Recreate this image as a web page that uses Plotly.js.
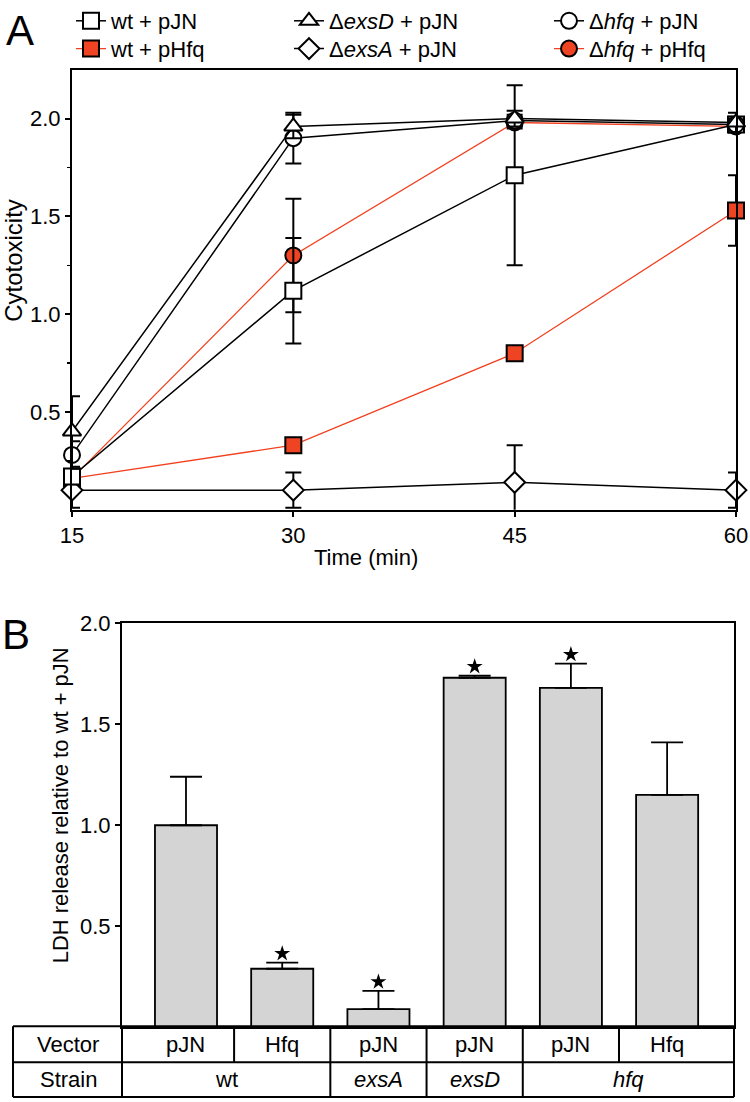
<!DOCTYPE html>
<html><head><meta charset="utf-8">
<script src="https://cdn.plot.ly/plotly-3.0.1.min.js"></script>
<style>html,body{margin:0;padding:0;background:#fff}</style>
</head><body><div id="chart" style="width:750px;height:1102px"></div>
<script>
// ---------- Panel A data ----------
const times = [15, 30, 45, 60];
const wtPJN = [0.17, 1.12, 1.71, 1.97];
const wtPJNErr = [0.04, 0.27, 0.46, 0.04];
const exsDPJN = [0.40, 1.96, 2.00, 1.98];
const exsDPJNErr = [0.18, 0.06, 0.04, 0.05];
const hfqPJN = [0.28, 1.90, 1.99, 1.97];
const hfqPJNErr = [0.07, 0.13, 0.03, 0.03];
const wtPHfq = [0.16, 0.33, 0.80, 1.53];
const wtPHfqErr = [0.02, 0.02, 0.02, 0.18];
const exsAPJN = [0.10, 0.10, 0.14, 0.10];
const exsAPJNErr = [0.09, 0.09, 0.19, 0.09];
const hfqPHfq = [0.16, 1.30, 1.98, 1.96];
const hfqPHfqErr = [0.03, 0.29, 0.03, 0.03];
const yTicksA = [0.5, 1.0, 1.5, 2.0];
const yMinorA = [0.25, 0.75, 1.25, 1.75];

// ---------- Panel B data ----------
const barIndex = [0, 1, 2, 3, 4, 5];
const vectors = ['pJN', 'Hfq', 'pJN', 'pJN', 'pJN', 'Hfq'];
const strains = ['wt', 'wt', 'exsA', 'exsD', 'hfq', 'hfq'];
const ldh = [1.00, 0.29, 0.09, 1.73, 1.68, 1.15];
const ldhErr = [0.24, 0.03, 0.09, 0.01, 0.12, 0.26];
const significant = [false, true, true, true, true, false];
const yTicksB = [0.5, 1.0, 1.5, 2.0];

// ---------- style ----------
const FONT = '"Liberation Sans", Arial, Helvetica, sans-serif';
const RED_LINE = '#f2411f';
const RED_FILL = '#ee4423';
const W = 750, H = 1102;
const px = v => v / W;
const py = v => 1 - v / H;

function series(name, y, err, symbol, fill, lineColor, legend, lw) {
  return {
    type: 'scatter', mode: 'lines+markers', name: name, x: times, y: y,
    xaxis: 'x', yaxis: 'y', legend: legend, cliponaxis: false,
    line: {color: lineColor, width: lw},
    marker: {symbol: symbol, size: 16, color: fill, line: {color: '#000', width: 2}},
    error_y: {type: 'data', array: err, visible: true, color: '#000', thickness: 2, width: 8}
  };
}

const traces = [
  series('wt + pHfq', wtPHfq, wtPHfqErr, 'square', RED_FILL, RED_LINE, 'legend2', 1.3),
  series('Δ<i>hfq</i> + pHfq', hfqPHfq, hfqPHfqErr, 'circle', RED_FILL, RED_LINE, 'legend6', 1.3),
  series('Δ<i>exsA</i> + pJN', exsAPJN, exsAPJNErr, 'diamond', '#fff', '#000', 'legend4', 1.5),
  series('wt + pJN', wtPJN, wtPJNErr, 'square', '#fff', '#000', 'legend', 1.5),
  series('Δ<i>hfq</i> + pJN', hfqPJN, hfqPJNErr, 'circle', '#fff', '#000', 'legend5', 1.5),
  series('Δ<i>exsD</i> + pJN', exsDPJN, exsDPJNErr, 'triangle-up', '#fff', '#000', 'legend3', 1.5)
];

traces.push({
  type: 'bar', x: barIndex, y: ldh, xaxis: 'x2', yaxis: 'y2', width: 0.645,
  showlegend: false,
  marker: {color: '#d4d4d4', line: {color: '#000', width: 1.8}},
  error_y: {type: 'data', symmetric: false, array: ldhErr, arrayminus: ldh.map(() => 0),
            color: '#000', thickness: 1.8, width: 16}
});
const starX = [], starY = [];
barIndex.forEach((i) => { if (significant[i]) { starX.push(i); starY.push(ldh[i] + ldhErr[i] + 0.045); } });
traces.push({
  type: 'scatter', mode: 'markers', x: starX, y: starY, xaxis: 'x2', yaxis: 'y2',
  showlegend: false, cliponaxis: false,
  marker: {symbol: 'star', size: 12, color: '#000'}
});

// ---------- table (shapes + annotations) ----------
const xr = [-0.665, 5.695];
const tTop = py(1026), tMid = py(1062), tBot = py(1097);
const shapes = [];
const lineStyle = {color: '#000', width: 2};
function hline(y) { shapes.push({type: 'line', xref: 'paper', yref: 'paper', x0: px(13), x1: px(734), y0: y, y1: y, line: lineStyle}); }
hline(tTop); hline(tMid); hline(tBot);
shapes.push({type: 'line', xref: 'paper', yref: 'paper', x0: px(13), x1: px(13), y0: tTop, y1: tBot, line: lineStyle});
shapes.push({type: 'line', xref: 'paper', yref: 'paper', x0: px(122), x1: px(122), y0: tTop, y1: tBot, line: lineStyle});
shapes.push({type: 'line', xref: 'paper', yref: 'paper', x0: px(734), x1: px(734), y0: tTop, y1: tBot, line: lineStyle});
for (let i = 0; i < barIndex.length - 1; i++) {
  const b = i + 0.5;
  const full = strains[i] !== strains[i + 1];
  shapes.push({type: 'line', xref: 'x2', yref: 'paper', x0: b, x1: b, y0: tTop, y1: full ? tBot : tMid, line: lineStyle});
}

const annotations = [];
const tf = {family: FONT, size: 22, color: '#000'};
function ann(o) { annotations.push(Object.assign({showarrow: false, xanchor: 'center', yanchor: 'middle'}, o)); }
ann({xref: 'paper', yref: 'paper', x: px(68), y: (tTop + tMid) / 2, text: 'Vector', font: tf});
ann({xref: 'paper', yref: 'paper', x: px(68), y: (tMid + tBot) / 2, text: 'Strain', font: tf});
barIndex.forEach(i => ann({xref: 'x2', yref: 'paper', x: i, y: (tTop + tMid) / 2, text: vectors[i], font: tf}));
let start = 0;
for (let i = 1; i <= strains.length; i++) {
  if (i === strains.length || strains[i] !== strains[start]) {
    const lo = start === 0 ? xr[0] : start - 0.5;
    const hi = i === strains.length ? xr[1] : i - 0.5;
    const label = strains[start] === 'wt' ? 'wt' : '<i>' + strains[start] + '</i>';
    ann({xref: 'x2', yref: 'paper', x: (lo + hi) / 2, y: (tMid + tBot) / 2, text: label, font: tf});
    start = i;
  }
}
ann({xref: 'paper', yref: 'paper', x: px(20), y: py(26), text: 'A', font: {family: FONT, size: 42, color: '#000'}});
ann({xref: 'paper', yref: 'paper', x: px(16), y: py(632), text: 'B', font: {family: FONT, size: 42, color: '#000'}});
ann({xref: 'paper', yref: 'paper', x: px(366), y: py(555), text: 'Time (min)', font: tf});
ann({xref: 'paper', yref: 'paper', x: px(14), y: py(257), text: 'Cytotoxicity', textangle: -90, font: {family: FONT, size: 24, color: '#000'}});
ann({xref: 'paper', yref: 'paper', x: px(60), y: py(804), text: 'LDH release relative to wt + pJN', textangle: -90, font: {family: FONT, size: 22, color: '#000'}});

const axBase = {showline: true, linecolor: '#000', linewidth: 2, mirror: true, showgrid: false, zeroline: false,
  ticks: 'outside', ticklen: 5, tickwidth: 2, tickcolor: '#000', tickfont: {family: FONT, size: 22, color: '#000'}};

function leg(x, yc) {
  return {orientation: 'v', yanchor: 'middle', xanchor: 'left', x: px(x), y: py(yc), bgcolor: 'rgba(0,0,0,0)',
    borderwidth: 0, font: {family: FONT, size: 22, color: '#000'}, itemclick: false};
}

const layout = {
  width: W, height: H, margin: {l: 0, r: 0, t: 0, b: 0},
  paper_bgcolor: '#fff', plot_bgcolor: '#fff',
  font: {family: FONT, size: 22, color: '#000'},
  showlegend: true,
  legend: leg(71, 16), legend2: leg(71, 44),
  legend3: leg(289, 16), legend4: leg(289, 44),
  legend5: leg(549, 16), legend6: leg(549, 44),
  xaxis: Object.assign({}, axBase, {domain: [px(72), px(736)], anchor: 'y', range: [15, 60], tickvals: times}),
  yaxis: Object.assign({}, axBase, {domain: [py(507), py(65)], anchor: 'x', range: [0, 2.25],
    tickvals: yTicksA, ticktext: yTicksA.map(v => v.toFixed(1)),
    minor: {tickvals: yMinorA, ticks: 'outside', ticklen: 3, tickwidth: 1.5, tickcolor: '#000'}}),
  xaxis2: Object.assign({}, axBase, {domain: [px(122), px(734)], anchor: 'y2', range: xr, showticklabels: false, ticks: ''}),
  yaxis2: Object.assign({}, axBase, {domain: [py(1027), py(621)], anchor: 'x2', range: [0, 2],
    tickvals: yTicksB, ticktext: yTicksB.map(v => v.toFixed(1))}),
  shapes: shapes,
  annotations: annotations
};

Plotly.newPlot('chart', traces, layout, {staticPlot: true});
</script></body></html>
